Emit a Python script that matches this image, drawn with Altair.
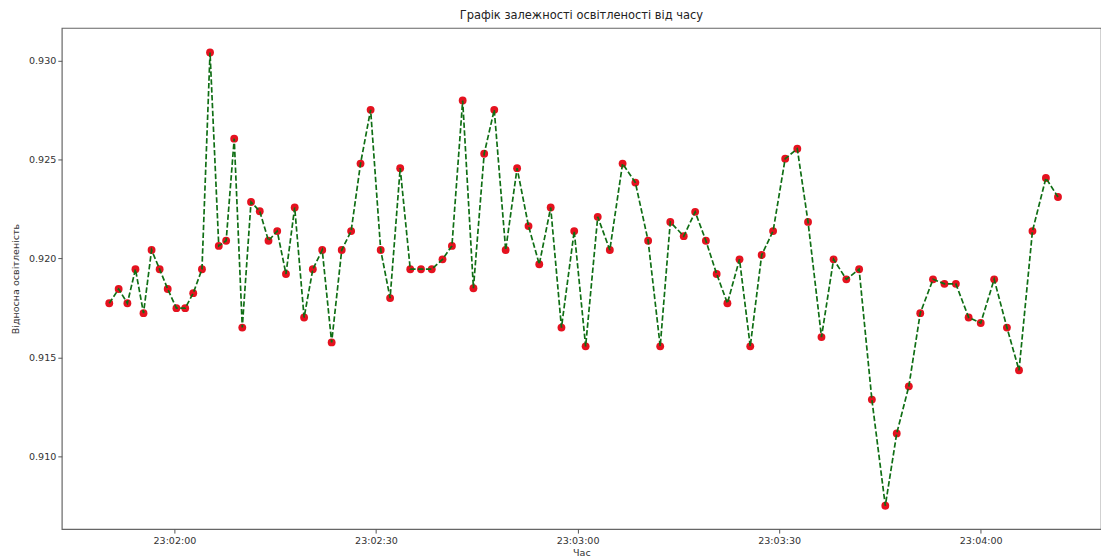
import altair as alt
import pandas as pd

# seconds relative to 23:02:00
seconds = [
    -9.7, -8.3, -7.0, -5.8, -4.6, -3.4, -2.2, -1.0, 0.3, 1.6,
    2.8, 4.1, 5.3, 6.6, 7.7, 8.9, 10.1, 11.4, 12.7, 14.0,
    15.3, 16.6, 17.9, 19.3, 20.6, 22.0, 23.4, 24.9, 26.3, 27.7,
    29.2, 30.7, 32.1, 33.6, 35.1, 36.7, 38.3, 39.9, 41.3, 42.9,
    44.5, 46.1, 47.6, 49.3, 51.0, 52.7, 54.3, 56.0, 57.6, 59.5,
    61.2, 63.0, 64.8, 66.7, 68.6, 70.5, 72.3, 73.8, 75.8, 77.5,
    79.1, 80.7, 82.3, 84.1, 85.7, 87.4, 89.1, 90.9, 92.7, 94.3,
    96.3, 98.1, 100.0, 101.9, 103.8, 105.8, 107.5, 109.3, 111.0, 112.9,
    114.6, 116.3, 118.2, 120.0, 122.0, 123.9, 125.7, 127.7, 129.7, 131.5,
]

illuminance = [
    0.91774, 0.91846, 0.91774, 0.91946, 0.91724, 0.92043, 0.91946, 0.91846, 0.91749, 0.91749,
    0.91825, 0.91946, 0.93042, 0.92064, 0.92090, 0.92606, 0.91651, 0.92286, 0.92239, 0.92090,
    0.92139, 0.91922, 0.92258, 0.91702, 0.91946, 0.92043, 0.91576, 0.92043, 0.92139, 0.92480,
    0.92752, 0.92043, 0.91800, 0.92457, 0.91946, 0.91946, 0.91946, 0.91996, 0.92064, 0.92799,
    0.91850, 0.92530, 0.92752, 0.92043, 0.92457, 0.92164, 0.91971, 0.92258, 0.91651, 0.92139,
    0.91556, 0.92211, 0.92043, 0.92480, 0.92384, 0.92090, 0.91556, 0.92185, 0.92113, 0.92236,
    0.92090, 0.91922, 0.91774, 0.91996, 0.91556, 0.92018, 0.92139, 0.92505, 0.92555, 0.92185,
    0.91603, 0.91996, 0.91895, 0.91946, 0.91287, 0.90750, 0.91116, 0.91354, 0.91724, 0.91895,
    0.91872, 0.91872, 0.91702, 0.91674, 0.91895, 0.91651, 0.91435, 0.92139, 0.92407, 0.92311,
]

y_ticks = [0.910, 0.915, 0.920, 0.925, 0.930]
x_tick_minutes_seconds = [(2, 0), (2, 30), (3, 0), (3, 30), (4, 0)]

base = pd.Timestamp("2024-01-01 23:02:00")
df = pd.DataFrame({
    "time": base + pd.to_timedelta(seconds, unit="s"),
    "value": illuminance,
})

font = "DejaVu Sans"

x_values = [alt.DateTime(year=2024, month=1, date=1, hours=23, minutes=m, seconds=s)
            for m, s in x_tick_minutes_seconds]

x_enc = alt.X(
    "time:T",
    title="Час",
    scale=alt.Scale(domain=[
        alt.DateTime(year=2024, month=1, date=1, hours=23, minutes=1, seconds=43, milliseconds=240),
        alt.DateTime(year=2024, month=1, date=1, hours=23, minutes=4, seconds=17, milliseconds=900),
    ], nice=False),
    axis=alt.Axis(values=x_values, format="%H:%M:%S", grid=False, domain=False,
                  tickSize=4, tickColor="#555", labelPadding=2, titlePadding=3,
                  labelFontSize=9.6, titleFontSize=9.6, labelColor="#333",
                  titleColor="#333", titleFontWeight="normal", labelFont=font,
                  titleFont=font),
)
y_enc = alt.Y(
    "value:Q",
    title="Відносна освітленість",
    scale=alt.Scale(domain=[0.90632, 0.93166], nice=False, zero=False),
    axis=alt.Axis(values=y_ticks, format=".3f", grid=False, domain=False,
                  tickSize=4, tickColor="#555", labelPadding=2, titlePadding=8,
                  labelFontSize=9.6, titleFontSize=9.6, labelColor="#333",
                  titleColor="#333", titleFontWeight="normal", labelFont=font,
                  titleFont=font),
)

points = alt.Chart(df).mark_circle(color="#e5121f", size=62, opacity=1).encode(x=x_enc, y=y_enc)
line = alt.Chart(df).mark_line(color="#0f6e14", strokeWidth=1.7, strokeDash=[5.5, 2.4]).encode(x=x_enc, y=y_enc)

chart = alt.layer(points, line).properties(
    width=1043,
    height=503,
    background="white",
    autosize=alt.AutoSizeParams(type="none"),
    padding={"left": 54, "top": 19, "right": 0, "bottom": 28},
    title=alt.TitleParams("Графік залежності освітленості від часу", font=font,
                          fontSize=11.5, fontWeight="normal", color="#222",
                          offset=6, anchor="middle"),
).configure_view(stroke="#666", strokeWidth=1.2)

chart.save("out.html", embed_options={"renderer": "svg", "actions": False})
